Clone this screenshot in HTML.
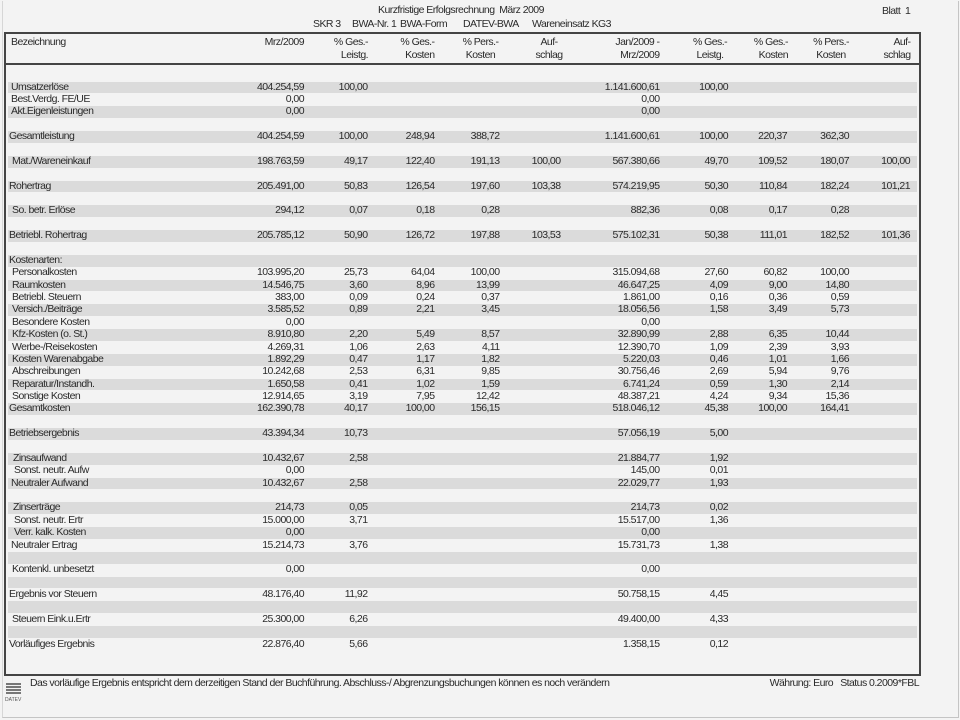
<!DOCTYPE html>
<html><head><meta charset="utf-8"><style>
html,body{margin:0;padding:0}
body{width:960px;height:720px;background:#f3f3f3;position:relative;overflow:hidden;font-family:"Liberation Sans",Arial,sans-serif;font-size:10.5px;letter-spacing:-0.55px;color:#2a2a2a}
.a{position:absolute;white-space:nowrap}
.frame{position:absolute;left:2px;top:1px;width:955px;height:716px;border-right:1px solid #c4c4c4;border-bottom:1px solid #c4c4c4;border-left:1px solid #d6d6d6}
.tbl{position:absolute;left:4px;top:32px;width:913px;height:640px;border:2px solid #444}
.hsep{position:absolute;left:5px;top:63px;width:914px;height:2px;background:#444}
.rows{position:absolute;left:0;top:81.7px;width:960px}
.r{position:relative;height:12.38px;line-height:11.7px}
.r.g::before{content:"";position:absolute;left:8px;width:909px;top:0;height:11.7px;background:#dbdbdb}
.r div{position:absolute;top:0;white-space:nowrap}
.l{left:11px}.l9{left:9px}.l12{left:12px}.l13{left:13px}.l14{left:14px}
.c1{right:656px}.c2{right:592.5px}.c3{right:525.5px}.c4{right:460.5px}.c5{right:399.5px}
.c6{right:300.5px}.c7{right:232px}.c8{right:173px}.c9{right:111px}.c10{right:50px}
.h{position:absolute;white-space:nowrap;text-align:right;line-height:13px}
</style></head><body>
<div class="frame"></div>

<div class="a" style="left:378px;top:4px;line-height:13px">Kurzfristige Erfolgsrechnung&nbsp; März 2009</div>
<div class="a" style="left:313px;top:18px;line-height:13px">SKR 3</div>
<div class="a" style="left:352px;top:18px;line-height:13px">BWA-Nr. 1</div>
<div class="a" style="left:400px;top:18px;line-height:13px">BWA-Form</div>
<div class="a" style="left:463px;top:18px;line-height:13px">DATEV-BWA</div>
<div class="a" style="left:532px;top:18px;line-height:13px">Wareneinsatz KG3</div>
<div class="a" style="left:882px;top:5px;line-height:13px">Blatt&nbsp; 1</div>

<div class="tbl"></div>
<div class="hsep"></div>

<div class="a" style="left:11px;top:36px;line-height:13px">Bezeichnung</div>
<div class="h" style="right:656px;top:36px">Mrz/2009</div>
<div class="h" style="right:592px;top:36px">% Ges.-<br>Leistg.</div>
<div class="h" style="right:525.5px;top:36px">% Ges.-<br>Kosten</div>
<div class="h" style="right:460.5px;top:36px;text-align:center;width:38px">% Pers.-<br>Kosten</div>
<div class="h" style="right:397px;top:36px;text-align:center;width:28px">Auf-<br>schlag</div>
<div class="h" style="right:300.5px;top:36px">Jan/2009 -<br>Mrz/2009</div>
<div class="h" style="right:232px;top:36px;text-align:center;width:36px">% Ges.-<br>Leistg.</div>
<div class="h" style="right:172px;top:36px">% Ges.-<br>Kosten</div>
<div class="h" style="right:110px;top:36px;text-align:center;width:38px">% Pers.-<br>Kosten</div>
<div class="h" style="right:49.5px;top:36px;text-align:right">Auf-<br>schlag</div>

<div class="rows">
<div class="r g"><div class="l">Umsatzerlöse</div><div class="c1">404.254,59</div><div class="c2">100,00</div><div class="c6">1.141.600,61</div><div class="c7">100,00</div></div>
<div class="r"><div class="l">Best.Verdg. FE/UE</div><div class="c1">0,00</div><div class="c6">0,00</div></div>
<div class="r g"><div class="l">Akt.Eigenleistungen</div><div class="c1">0,00</div><div class="c6">0,00</div></div>
<div class="r"></div>
<div class="r g"><div class="l9">Gesamtleistung</div><div class="c1">404.254,59</div><div class="c2">100,00</div><div class="c3">248,94</div><div class="c4">388,72</div><div class="c6">1.141.600,61</div><div class="c7">100,00</div><div class="c8">220,37</div><div class="c9">362,30</div></div>
<div class="r"></div>
<div class="r g"><div class="l12">Mat./Wareneinkauf</div><div class="c1">198.763,59</div><div class="c2">49,17</div><div class="c3">122,40</div><div class="c4">191,13</div><div class="c5">100,00</div><div class="c6">567.380,66</div><div class="c7">49,70</div><div class="c8">109,52</div><div class="c9">180,07</div><div class="c10">100,00</div></div>
<div class="r"></div>
<div class="r g"><div class="l9">Rohertrag</div><div class="c1">205.491,00</div><div class="c2">50,83</div><div class="c3">126,54</div><div class="c4">197,60</div><div class="c5">103,38</div><div class="c6">574.219,95</div><div class="c7">50,30</div><div class="c8">110,84</div><div class="c9">182,24</div><div class="c10">101,21</div></div>
<div class="r"></div>
<div class="r g"><div class="l12">So. betr. Erlöse</div><div class="c1">294,12</div><div class="c2">0,07</div><div class="c3">0,18</div><div class="c4">0,28</div><div class="c6">882,36</div><div class="c7">0,08</div><div class="c8">0,17</div><div class="c9">0,28</div></div>
<div class="r"></div>
<div class="r g"><div class="l9">Betriebl. Rohertrag</div><div class="c1">205.785,12</div><div class="c2">50,90</div><div class="c3">126,72</div><div class="c4">197,88</div><div class="c5">103,53</div><div class="c6">575.102,31</div><div class="c7">50,38</div><div class="c8">111,01</div><div class="c9">182,52</div><div class="c10">101,36</div></div>
<div class="r"></div>
<div class="r g"><div class="l9">Kostenarten:</div></div>
<div class="r"><div class="l12">Personalkosten</div><div class="c1">103.995,20</div><div class="c2">25,73</div><div class="c3">64,04</div><div class="c4">100,00</div><div class="c6">315.094,68</div><div class="c7">27,60</div><div class="c8">60,82</div><div class="c9">100,00</div></div>
<div class="r g"><div class="l12">Raumkosten</div><div class="c1">14.546,75</div><div class="c2">3,60</div><div class="c3">8,96</div><div class="c4">13,99</div><div class="c6">46.647,25</div><div class="c7">4,09</div><div class="c8">9,00</div><div class="c9">14,80</div></div>
<div class="r"><div class="l12">Betriebl. Steuern</div><div class="c1">383,00</div><div class="c2">0,09</div><div class="c3">0,24</div><div class="c4">0,37</div><div class="c6">1.861,00</div><div class="c7">0,16</div><div class="c8">0,36</div><div class="c9">0,59</div></div>
<div class="r g"><div class="l12">Versich./Beiträge</div><div class="c1">3.585,52</div><div class="c2">0,89</div><div class="c3">2,21</div><div class="c4">3,45</div><div class="c6">18.056,56</div><div class="c7">1,58</div><div class="c8">3,49</div><div class="c9">5,73</div></div>
<div class="r"><div class="l12">Besondere Kosten</div><div class="c1">0,00</div><div class="c6">0,00</div></div>
<div class="r g"><div class="l12">Kfz-Kosten (o. St.)</div><div class="c1">8.910,80</div><div class="c2">2,20</div><div class="c3">5,49</div><div class="c4">8,57</div><div class="c6">32.890,99</div><div class="c7">2,88</div><div class="c8">6,35</div><div class="c9">10,44</div></div>
<div class="r"><div class="l12">Werbe-/Reisekosten</div><div class="c1">4.269,31</div><div class="c2">1,06</div><div class="c3">2,63</div><div class="c4">4,11</div><div class="c6">12.390,70</div><div class="c7">1,09</div><div class="c8">2,39</div><div class="c9">3,93</div></div>
<div class="r g"><div class="l12">Kosten Warenabgabe</div><div class="c1">1.892,29</div><div class="c2">0,47</div><div class="c3">1,17</div><div class="c4">1,82</div><div class="c6">5.220,03</div><div class="c7">0,46</div><div class="c8">1,01</div><div class="c9">1,66</div></div>
<div class="r"><div class="l12">Abschreibungen</div><div class="c1">10.242,68</div><div class="c2">2,53</div><div class="c3">6,31</div><div class="c4">9,85</div><div class="c6">30.756,46</div><div class="c7">2,69</div><div class="c8">5,94</div><div class="c9">9,76</div></div>
<div class="r g"><div class="l12">Reparatur/Instandh.</div><div class="c1">1.650,58</div><div class="c2">0,41</div><div class="c3">1,02</div><div class="c4">1,59</div><div class="c6">6.741,24</div><div class="c7">0,59</div><div class="c8">1,30</div><div class="c9">2,14</div></div>
<div class="r"><div class="l12">Sonstige Kosten</div><div class="c1">12.914,65</div><div class="c2">3,19</div><div class="c3">7,95</div><div class="c4">12,42</div><div class="c6">48.387,21</div><div class="c7">4,24</div><div class="c8">9,34</div><div class="c9">15,36</div></div>
<div class="r g"><div class="l9">Gesamtkosten</div><div class="c1">162.390,78</div><div class="c2">40,17</div><div class="c3">100,00</div><div class="c4">156,15</div><div class="c6">518.046,12</div><div class="c7">45,38</div><div class="c8">100,00</div><div class="c9">164,41</div></div>
<div class="r"></div>
<div class="r g"><div class="l9">Betriebsergebnis</div><div class="c1">43.394,34</div><div class="c2">10,73</div><div class="c6">57.056,19</div><div class="c7">5,00</div></div>
<div class="r"></div>
<div class="r g"><div class="l13">Zinsaufwand</div><div class="c1">10.432,67</div><div class="c2">2,58</div><div class="c6">21.884,77</div><div class="c7">1,92</div></div>
<div class="r"><div class="l14">Sonst. neutr. Aufw</div><div class="c1">0,00</div><div class="c6">145,00</div><div class="c7">0,01</div></div>
<div class="r g"><div class="l">Neutraler Aufwand</div><div class="c1">10.432,67</div><div class="c2">2,58</div><div class="c6">22.029,77</div><div class="c7">1,93</div></div>
<div class="r"></div>
<div class="r g"><div class="l13">Zinserträge</div><div class="c1">214,73</div><div class="c2">0,05</div><div class="c6">214,73</div><div class="c7">0,02</div></div>
<div class="r"><div class="l14">Sonst. neutr. Ertr</div><div class="c1">15.000,00</div><div class="c2">3,71</div><div class="c6">15.517,00</div><div class="c7">1,36</div></div>
<div class="r g"><div class="l14">Verr. kalk. Kosten</div><div class="c1">0,00</div><div class="c6">0,00</div></div>
<div class="r"><div class="l">Neutraler Ertrag</div><div class="c1">15.214,73</div><div class="c2">3,76</div><div class="c6">15.731,73</div><div class="c7">1,38</div></div>
<div class="r g"></div>
<div class="r"><div class="l12">Kontenkl. unbesetzt</div><div class="c1">0,00</div><div class="c6">0,00</div></div>
<div class="r g"></div>
<div class="r"><div class="l9">Ergebnis vor Steuern</div><div class="c1">48.176,40</div><div class="c2">11,92</div><div class="c6">50.758,15</div><div class="c7">4,45</div></div>
<div class="r g"></div>
<div class="r"><div class="l12">Steuern Eink.u.Ertr</div><div class="c1">25.300,00</div><div class="c2">6,26</div><div class="c6">49.400,00</div><div class="c7">4,33</div></div>
<div class="r g"></div>
<div class="r"><div class="l9">Vorläufiges Ergebnis</div><div class="c1">22.876,40</div><div class="c2">5,66</div><div class="c6">1.358,15</div><div class="c7">0,12</div></div>
</div>

<!-- footer -->
<div class="a" style="left:6px;top:683px;width:15px;height:2px;background:#777"></div>
<div class="a" style="left:6px;top:686px;width:15px;height:2px;background:#777"></div>
<div class="a" style="left:6px;top:689px;width:15px;height:2px;background:#777"></div>
<div class="a" style="left:6px;top:692px;width:15px;height:2px;background:#777"></div>
<div class="a" style="left:5px;top:697px;font-size:5px;letter-spacing:0;line-height:6px;color:#555">DATEV</div>
<div class="a" style="left:30px;top:677px;line-height:12px">Das vorläufige Ergebnis entspricht dem derzeitigen Stand der Buchführung. Abschluss-/ Abgrenzungsbuchungen können es noch verändern</div>
<div class="a" style="right:41px;top:677px;line-height:12px">Währung: Euro&nbsp;&nbsp; Status 0.2009*FBL</div>
</body></html>
